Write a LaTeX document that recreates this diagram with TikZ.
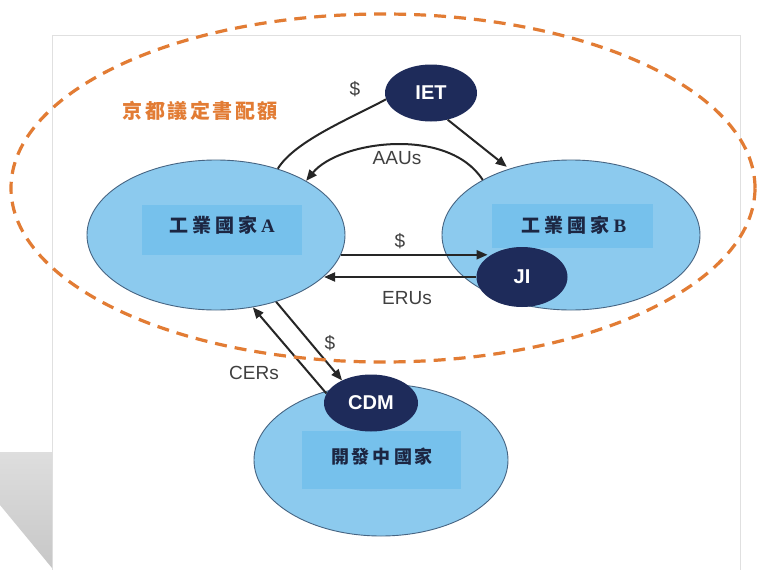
\documentclass[tikz,border=0pt]{standalone}
\usepackage{fontspec}
\setmainfont{Liberation Sans}
\newfontfamily\cjk{Noto Sans CJK TC}
\newfontfamily\latinserif{Liberation Serif}
\usetikzlibrary{shapes.geometric,arrows.meta,calc}

\definecolor{skyfill}{RGB}{140,202,238}
\definecolor{panelfill}{RGB}{118,193,236}
\definecolor{edgeblue}{RGB}{70,100,130}
\definecolor{navy}{RGB}{30,43,90}
\definecolor{inktext}{RGB}{28,38,66}
\definecolor{kyoto}{RGB}{226,124,52}

\begin{document}
\begin{tikzpicture}[x=1pt,y=-1pt,
  country/.style={ellipse, draw=edgeblue, line width=0.9pt, fill=skyfill, inner sep=0pt},
  panel/.style={rectangle, fill=panelfill, inner sep=0pt},
  mech/.style={ellipse, fill=navy, text=white, inner sep=0pt,
    font=\fontsize{20}{20}\selectfont\bfseries},
  cjklabel/.style={text=inktext, inner sep=0pt},
  flow/.style={line width=2pt, draw=black!85},
  headed/.style={-{Triangle[length=11pt,width=9pt]}},
  lbl/.style={font=\fontsize{19}{19}\selectfont, text=black!75, inner sep=0pt}]

\useasboundingbox (0,0) rectangle (758,570);
\fill[white] (0,0) rectangle (758,570);

% slide sheet and its shadow
\draw[black!12, line width=1pt] (52,570) -- (52,35) -- (740,35) -- (740,570);
\shade[top color=black!13, bottom color=black!22] (0,452) -- (52,452) -- (52,568) -- (0,505) -- cycle;

% countries
\node[country, minimum width=258, minimum height=150] (A) at (216,235) {};
\node[country, minimum width=258, minimum height=150] (B) at (571,235) {};
\node[country, minimum width=254, minimum height=152] (D) at (381,460) {};

\node[panel, minimum width=160, minimum height=50] (Ap) at (222,230) {};
\node[panel, minimum width=161, minimum height=44] (Bp) at (572,226) {};
\node[panel, minimum width=159, minimum height=58] (Dp) at (381,460) {};

\node[cjklabel] (At) at (222,225)
  {\cjk\fontsize{19}{19}\selectfont\bfseries 工\hspace{4pt}業\hspace{4pt}國\hspace{4pt}家\hspace{4pt}{\latinserif A}};
\node[cjklabel] (Bt) at (574,225)
  {\cjk\fontsize{19}{19}\selectfont\bfseries 工\hspace{4pt}業\hspace{4pt}國\hspace{4pt}家\hspace{4pt}{\latinserif B}};
\node[cjklabel] (Dt) at (382,457)
  {\cjk\fontsize{18}{18}\selectfont\bfseries 開\hspace{3pt}發\hspace{3pt}中\hspace{3pt}國\hspace{3pt}家};

% flexible mechanisms
\node[mech, minimum width=92, minimum height=57] (IET) at (431,93) {IET};
\node[mech, minimum width=91, minimum height=60] (JI) at (522,277) {JI};
\node[mech, minimum width=94, minimum height=57] (CDM) at (371,403) {CDM};

% emissions trading
\draw[flow] (A.47) .. controls +(17,-28) and +(-33,18) .. (IET.188);
\draw[flow, headed, shorten >=3pt] (IET.-58) -- (B.133);
\draw[flow, headed] (B.148) .. controls +(-35,-54) and +(33,-40) .. (A.31);

% joint implementation
\draw[flow, headed] (A.-9) -- (A.-9 -| JI.150);
\draw[flow, headed] (JI.west) -- (JI.west -| A.-21);

% clean development mechanism
\draw[flow, headed] (A.-48) -- (CDM.142);
\draw[flow, headed] (CDM.168) -- (A.-63);

% flow labels
\node[lbl] (l1) at (355,89) {\$};
\node[lbl] (l2) at (397,158) {AAUs};
\node[lbl] (l3) at (400,241) {\$};
\node[lbl] (l4) at (407,298) {ERUs};
\node[lbl] (l5) at (330,343) {\$};
\node[lbl] (l6) at (254,373) {CERs};

% Kyoto allowance boundary
\node[ellipse, draw=kyoto, dash pattern=on 12pt off 8pt, line width=3.2pt,
  minimum width=744, minimum height=348, inner sep=0pt] (K) at (383,188) {};
\node[text=kyoto, inner sep=0pt] (Kt) at (200,111)
  {\cjk\fontsize{20}{20}\selectfont\bfseries 京\hspace{2.5pt}都\hspace{2.5pt}議\hspace{2.5pt}定\hspace{2.5pt}書\hspace{2.5pt}配\hspace{2.5pt}額};
\end{tikzpicture}
\end{document}
